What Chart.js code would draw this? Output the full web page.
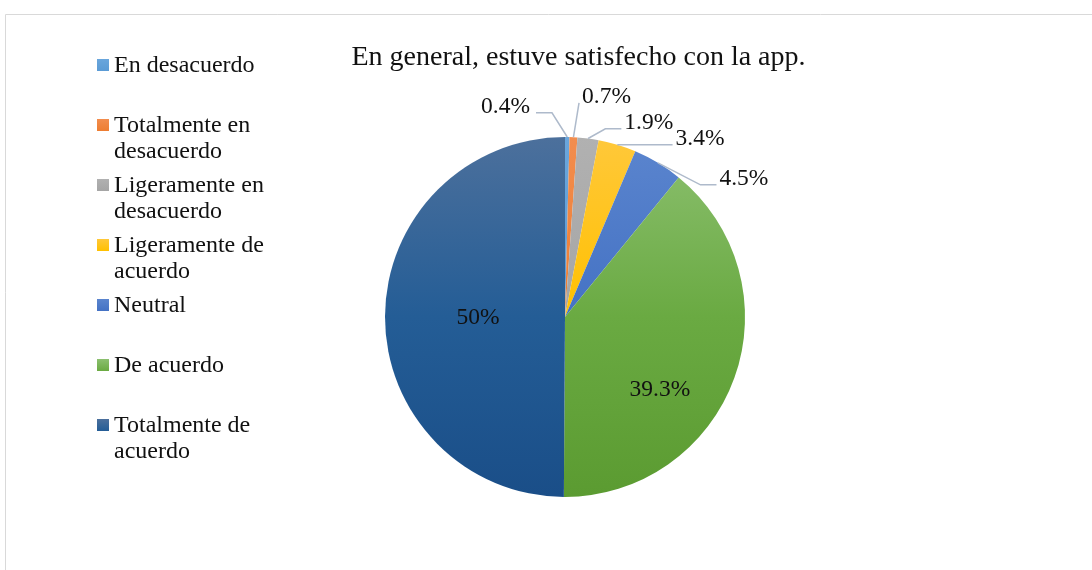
<!DOCTYPE html>
<html>
<head>
<meta charset="utf-8">
<script src="https://cdn.jsdelivr.net/npm/chart.js@4/dist/chart.umd.min.js"></script>
<style>
  html, body { margin: 0; padding: 0; background: #ffffff; }
  canvas { position: absolute; left: 0; top: 0; }
</style>
</head>
<body>
<canvas id="c" width="1092" height="570"></canvas>
<script>
// ---------------- data ----------------
const chartTitle = 'En general, estuve satisfecho con la app.';
const categories = [
  'En desacuerdo',
  'Totalmente en desacuerdo',
  'Ligeramente en desacuerdo',
  'Ligeramente de acuerdo',
  'Neutral',
  'De acuerdo',
  'Totalmente de acuerdo'
];
const percentages = [0.4, 0.7, 1.9, 3.4, 4.5, 39.3, 50];

// ---------------- styles ----------------
const FONT = '"Liberation Serif", "Times New Roman", serif';
const gradientStops = [
  ['#6aa6dc', '#5b9bd5', '#4b89c3'],
  ['#f28d4e', '#ed7d31', '#d76e27'],
  ['#b1b1b1', '#a5a5a5', '#939393'],
  ['#ffc83a', '#ffc000', '#e8ad00'],
  ['#5b85ce', '#4472c4', '#3963ae'],
  ['#8cc070', '#6aaa42', '#5b9b31'],
  ['#4c709c', '#245d96', '#1a4e88']
];
// label placement relative to each slice: angle shift (deg) and distance (x radius)
const labelPlacement = [
  { dAngle: -16.4, dist: 1.223 },
  { dAngle: 7.9, dist: 1.254 },
  { dAngle: 15.8, dist: 1.184 },
  { dAngle: 20.0, dist: 1.250 },
  { dAngle: 20.9, dist: 1.262 },
  { dAngle: 17.2, dist: 0.660 },
  { dAngle: 0.0, dist: 0.483 }
];

function sliceGradient(ctx, i, top, bottom) {
  const g = ctx.createLinearGradient(0, top, 0, bottom);
  const s = gradientStops[i];
  g.addColorStop(0, s[0]);
  g.addColorStop(0.5, s[1]);
  g.addColorStop(1, s[2]);
  return g;
}

function wrapText(ctx, text, maxW) {
  const words = text.split(' ');
  const lines = [];
  let cur = '';
  for (const w of words) {
    const test = cur ? cur + ' ' + w : w;
    if (ctx.measureText(test).width > maxW && cur) {
      lines.push(cur);
      cur = w;
    } else {
      cur = test;
    }
  }
  if (cur) lines.push(cur);
  return lines;
}

const decorPlugin = {
  id: 'excelDecor',
  beforeDraw(chart) {
    const ctx = chart.ctx;
    ctx.save();
    ctx.strokeStyle = '#d9d9d9';
    ctx.lineWidth = 1;
    ctx.beginPath();
    ctx.moveTo(5.5, 570);
    ctx.lineTo(5.5, 14.5);
    ctx.lineTo(1092, 14.5);
    ctx.stroke();
    ctx.restore();
  },
  afterDatasetsDraw(chart) {
    const ctx = chart.ctx;
    const meta = chart.getDatasetMeta(0);
    const fs = 23.5;
    ctx.save();
    ctx.font = fs + 'px ' + FONT;
    ctx.textBaseline = 'alphabetic';
    ctx.textAlign = 'left';
    meta.data.forEach((arc, i) => {
      const p = arc.getProps(['x', 'y', 'startAngle', 'endAngle', 'outerRadius'], true);
      const mid = (p.startAngle + p.endAngle) / 2;
      const pl = labelPlacement[i];
      const la = mid + pl.dAngle * Math.PI / 180;
      const lx = p.x + Math.cos(la) * p.outerRadius * pl.dist;
      const ly = p.y + Math.sin(la) * p.outerRadius * pl.dist;
      const text = percentages[i] + '%';
      const w = ctx.measureText(text).width;
      const left = lx - w / 2;
      const base = ly + 0.33 * fs;
      if (pl.dist > 1) {
        const sx = p.x + Math.cos(mid) * p.outerRadius;
        const sy = p.y + Math.sin(mid) * p.outerRadius;
        let ex, sign;
        if (lx >= sx) { ex = left - 3; sign = 1; } else { ex = left + w + 6; sign = -1; }
        const ey = base;
        const h = Math.max(0, Math.min(16, Math.abs(ex - sx) - 10));
        const bx = ex - sign * h;
        ctx.strokeStyle = '#aebacb';
        ctx.lineWidth = 1.5;
        ctx.beginPath();
        ctx.moveTo(sx, sy);
        ctx.lineTo(bx, ey);
        ctx.lineTo(ex, ey);
        ctx.stroke();
      }
      ctx.fillStyle = '#111111';
      ctx.fillText(text, left, base);
    });
    ctx.restore();
  },
  afterDraw(chart) {
    const ctx = chart.ctx;
    ctx.save();
    // title
    ctx.fillStyle = '#111111';
    ctx.font = '28px ' + FONT;
    ctx.textAlign = 'center';
    ctx.textBaseline = 'alphabetic';
    ctx.fillText(chartTitle, 578.5, 65);
    // legend
    ctx.font = '24px ' + FONT;
    ctx.textAlign = 'left';
    categories.forEach((cat, i) => {
      const base = 72 + 60 * i;
      const sq = ctx.createLinearGradient(0, base - 13, 0, base - 1);
      sq.addColorStop(0, gradientStops[i][0]);
      sq.addColorStop(1, gradientStops[i][1]);
      ctx.fillStyle = sq;
      ctx.fillRect(97, base - 13, 12, 12);
      ctx.fillStyle = '#111111';
      const lines = wrapText(ctx, cat, 160);
      lines.forEach((ln, j) => ctx.fillText(ln, 114, base + j * 26.3));
    });
    ctx.restore();
  }
};

new Chart(document.getElementById('c'), {
  type: 'pie',
  data: {
    labels: categories,
    datasets: [{
      data: percentages,
      borderWidth: 0,
      backgroundColor: (c) => {
        const ca = c.chart.chartArea;
        if (!ca) return gradientStops[c.dataIndex][1];
        return sliceGradient(c.chart.ctx, c.dataIndex, ca.top, ca.bottom);
      }
    }]
  },
  options: {
    responsive: false,
    animation: false,
    devicePixelRatio: 1,
    layout: { padding: { left: 385, right: 347, top: 137, bottom: 73 } },
    plugins: {
      legend: { display: false },
      title: { display: false },
      tooltip: { enabled: false }
    }
  },
  plugins: [decorPlugin]
});
</script>
</body>
</html>
